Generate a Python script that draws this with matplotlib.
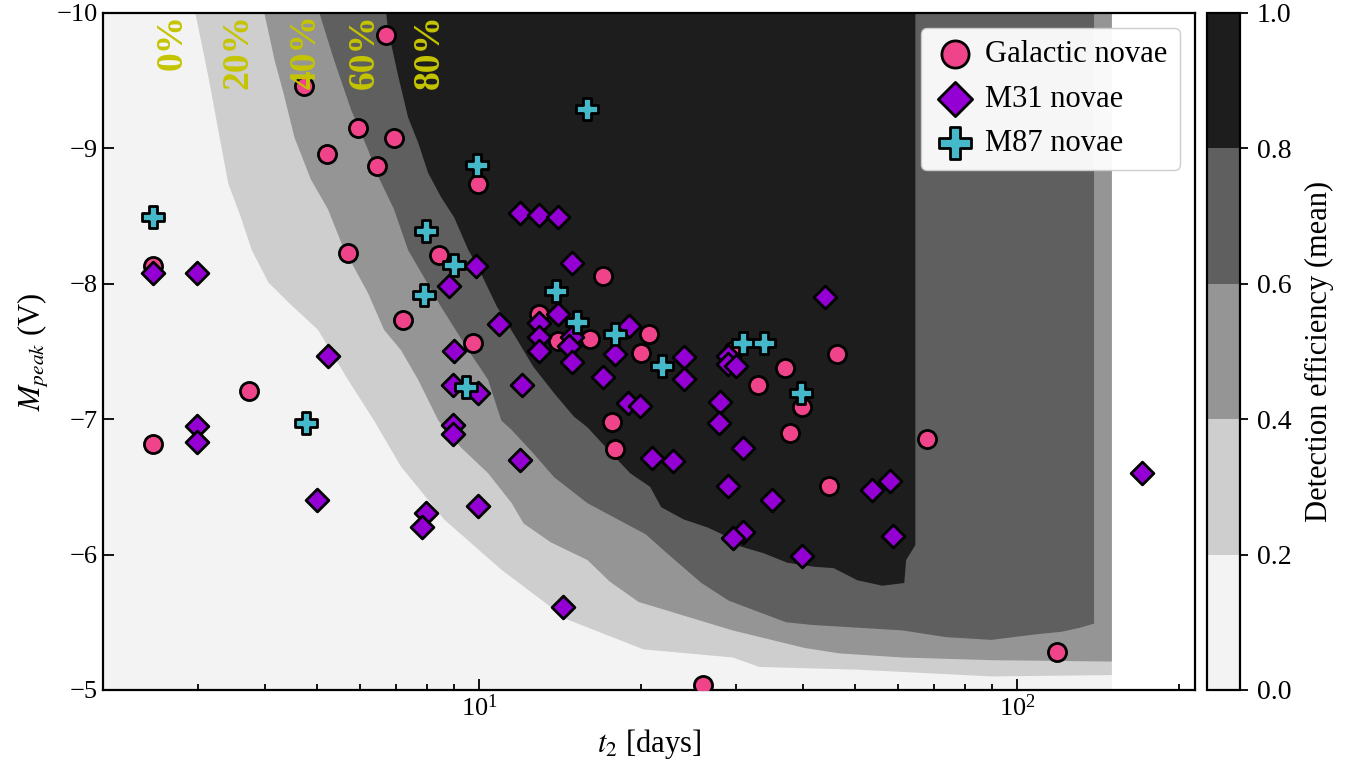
import matplotlib
matplotlib.use("Agg")
import numpy as np
import matplotlib.pyplot as plt
from matplotlib.colors import ListedColormap, BoundaryNorm
from matplotlib.cm import ScalarMappable

plt.rcParams["font.family"] = "serif"
plt.rcParams["font.serif"] = ["Liberation Serif", "DejaVu Serif"]
plt.rcParams["mathtext.fontset"] = "stix"

# detection-efficiency contour levels
LEVELS = [0.0, 0.2, 0.4, 0.6, 0.8, 1.0]
LEVEL_LABELS = ["0%", "20%", "40%", "60%", "80%"]
LABEL_T2 = [2.69, 3.57, 4.76, 6.12, 8.07]

# extent of the simulated efficiency grid
GRID_T2 = [1.5, 150.0]
GRID_M = [-10.0, -5.0]

# traced iso-efficiency boundaries (t2 [days], M_peak), from the top edge round
EFF20_T2 = [2.97, 3.14, 3.25, 3.42, 3.61, 3.78, 4.06, 4.43, 5.02, 5.71, 6.38, 7.16,
            8.61, 10.99, 14.6, 20.2, 29.6, 33.2, 50.5, 89.6, 150, 150]
EFF20_M = [-10.0, -9.53, -9.21, -8.74, -8.49, -8.25, -8.01, -7.86, -7.66, -7.29, -6.99,
           -6.65, -6.26, -5.89, -5.52, -5.30, -5.24, -5.17, -5.15, -5.10, -5.11, -10.0]

EFF40_T2 = [3.99, 4.17, 4.33, 4.54, 4.87, 5.24, 5.55, 5.86, 6.22, 6.66, 7.16, 7.71, 8.40,
            9.26, 10.4, 11.5, 12.1, 13.6, 15.9, 17.5, 19.8, 29.6, 40.3, 46.8, 61.2, 89.6,
            150, 150]
EFF40_M = [-10.0, -9.65, -9.41, -9.08, -8.77, -8.55, -8.30, -8.12, -7.93, -7.66, -7.51,
           -7.29, -6.99, -6.79, -6.60, -6.38, -6.23, -6.09, -5.96, -5.80, -5.65, -5.44,
           -5.31, -5.27, -5.24, -5.22, -5.21, -10.0]

EFF60_T2 = [5.05, 5.38, 5.79, 6.22, 6.50, 6.95, 7.38, 8.50, 9.55, 10.4, 11.0, 11.5, 12.6,
            13.8, 15.9, 18.1, 20.4, 22.5, 25.9, 29.1, 37.2, 41.7, 61.2, 73.8, 89.6, 108,
            121, 131, 139, 139]
EFF60_M = [-10.0, -9.65, -9.28, -8.99, -8.79, -8.55, -8.25, -7.83, -7.51, -7.29, -6.99,
           -6.92, -6.75, -6.57, -6.38, -6.26, -6.15, -6.00, -5.79, -5.66, -5.50, -5.48,
           -5.44, -5.39, -5.37, -5.41, -5.43, -5.46, -5.49, -10.0]

EFF80_T2 = [6.72, 6.78, 7.08, 7.38, 7.71, 8.04, 8.50, 8.99, 9.55, 9.96, 10.8, 11.8, 12.6,
            13.8, 15.0, 15.9, 17.6, 19.1, 20.8, 21.8, 24.0, 26.6, 29.0, 30.6, 33.8, 37.4,
            41.9, 45.6, 50.5, 56.2, 61.7, 62.2, 64.7, 64.7]
EFF80_M = [-10.0, -9.87, -9.53, -9.23, -9.04, -8.82, -8.64, -8.49, -8.25, -8.12, -7.83,
           -7.58, -7.39, -7.19, -7.02, -6.94, -6.75, -6.60, -6.50, -6.35, -6.26, -6.20,
           -6.13, -6.06, -6.01, -5.94, -5.91, -5.90, -5.81, -5.77, -5.79, -5.96, -6.07,
           -10.0]

# nova samples
GAL_T2 = [6.72, 4.73, 5.97, 6.95, 5.22, 6.47, 9.96, 5.71, 8.43, 2.48, 7.23, 9.75, 12.9,
          14.0, 16.1, 17.0, 20.7, 20.0, 29.7, 46.3, 37.0, 33.0, 39.9, 2.48, 3.73, 17.7,
          17.9, 37.9, 44.8, 68.1, 118.6, 26.1]
GAL_M = [-9.84, -9.46, -9.15, -9.08, -8.96, -8.87, -8.74, -8.23, -8.21, -8.13, -7.73,
         -7.56, -7.78, -7.58, -7.59, -8.06, -7.63, -7.49, -7.50, -7.48, -7.38, -7.25,
         -7.09, -6.82, -7.21, -6.98, -6.78, -6.90, -6.51, -6.85, -5.28, -5.04]

M31_T2 = [11.9, 12.9, 14.0, 14.9, 9.87, 8.80, 14.0, 12.9, 12.9, 10.9, 12.9, 14.9, 14.7,
          14.9, 17.0, 17.9, 19.0, 9.0, 8.95, 9.96, 12.0, 18.9, 19.9, 24.0, 24.0, 29.0,
          29.0, 30.0, 28.0, 44.0, 27.9, 31.0, 21.0, 22.9, 29.0, 35.0, 30.9, 29.7, 39.9,
          53.8, 58.1, 58.9, 170.6, 14.3, 8.95, 8.95, 11.9, 9.96, 7.98, 7.83, 4.99, 5.25,
          2.99, 2.48, 2.99, 2.99]
M31_M = [-8.52, -8.51, -8.49, -8.15, -8.13, -7.98, -7.78, -7.71, -7.61, -7.70, -7.50,
         -7.61, -7.54, -7.42, -7.31, -7.48, -7.69, -7.50, -7.25, -7.19, -7.25, -7.12,
         -7.10, -7.46, -7.30, -7.47, -7.41, -7.39, -7.13, -7.90, -6.97, -6.79, -6.71,
         -6.69, -6.51, -6.40, -6.17, -6.12, -5.99, -6.48, -6.54, -6.14, -6.60, -5.61,
         -6.96, -6.89, -6.70, -6.36, -6.31, -6.20, -6.40, -7.47, -8.08, -8.08, -6.95,
         -6.83]

M87_T2 = [2.48, 4.76, 7.98, 7.91, 9.0, 9.46, 9.91, 13.9, 15.9, 15.2, 17.9, 21.9, 30.9,
          33.8, 39.7]
M87_M = [-8.49, -6.97, -8.39, -7.92, -8.14, -7.24, -8.88, -7.95, -9.29, -7.72, -7.63,
         -7.39, -7.56, -7.56, -7.19]

# colours of the filled bands: Greys sampled at the band centres
band_colors = plt.get_cmap("Greys")([0.1, 0.3, 0.5, 0.7, 0.9])
cmap = ListedColormap(band_colors)
norm = BoundaryNorm(LEVELS, cmap.N)

fig = plt.figure(figsize=(13.67, 7.68), dpi=100)
ax = fig.add_axes([0.0753, 0.1016, 0.7988, 0.8815])
cax = fig.add_axes([0.883, 0.1016, 0.0241, 0.8815])

ax.fill([GRID_T2[0], GRID_T2[1], GRID_T2[1], GRID_T2[0]],
        [GRID_M[0], GRID_M[0], GRID_M[1], GRID_M[1]],
        color=band_colors[0], lw=0, zorder=0)
boundaries = [(EFF20_T2, EFF20_M), (EFF40_T2, EFF40_M),
              (EFF60_T2, EFF60_M), (EFF80_T2, EFF80_M)]
for (bx, by), color in zip(boundaries, band_colors[1:]):
    ax.fill(bx, by, color=color, lw=0, zorder=0)

for lx, lab in zip(LABEL_T2, LEVEL_LABELS):
    ax.text(lx, -9.995, lab, rotation=90, ha="center", va="top",
            fontsize=27, fontweight="bold", color="#c4c400", zorder=6)

ax.scatter(GAL_T2, GAL_M, s=170, marker="o", color="#ef4489", edgecolors="black",
           linewidths=2, zorder=3, label="Galactic novae")
ax.scatter(M31_T2, M31_M, s=135, marker="D", color="#9400d3", edgecolors="black",
           linewidths=2, zorder=4, label="M31 novae")
ax.scatter(M87_T2, M87_M, s=240, marker="P", color="#45b9c9", edgecolors="black",
           linewidths=2, zorder=5, label="M87 novae")

ax.set_xscale("log")
ax.set_xlim(2, 214)
ax.set_ylim(-5, -10)
ax.set_yticks([-10, -9, -8, -7, -6, -5])
ax.tick_params(which="both", direction="in", labelsize=19, width=1.3)
ax.tick_params(which="major", length=8)
ax.tick_params(which="minor", length=4)
for spine in ax.spines.values():
    spine.set_linewidth(1.6)
ax.set_xlabel("$t_2$ [days]", fontsize=22)
ax.set_ylabel("$M_{peak}$ (V)", fontsize=22)

leg = ax.legend(loc="upper right", fontsize=22, markerscale=1.5, framealpha=0.95,
                handletextpad=0.3, borderpad=0.4, labelspacing=0.5,
                handlelength=1.4)

cb = fig.colorbar(ScalarMappable(norm=norm, cmap=cmap), cax=cax, ticks=LEVELS)
cb.ax.set_yticklabels([f"{v:.1f}" for v in LEVELS])
cb.ax.tick_params(labelsize=20, length=6, width=1.3, pad=6)
cb.outline.set_linewidth(1.6)
cb.set_label("Detection efficiency (mean)", fontsize=22, labelpad=10)

fig.savefig("out.png", dpi=100)
